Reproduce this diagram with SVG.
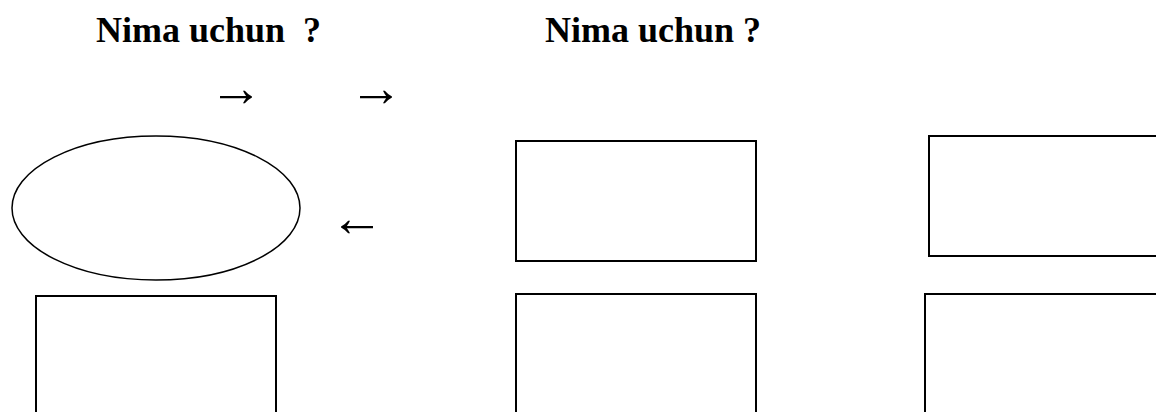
<svg xmlns="http://www.w3.org/2000/svg" width="1156" height="412" viewBox="0 0 1156 412">
<style>
.title{font-family:"Liberation Serif","Times New Roman",serif;font-weight:bold;font-size:36px;fill:#000}
.arr{font-family:"Liberation Serif","DejaVu Serif",serif;font-size:54px;fill:#000}
.box{fill:#fff;stroke:#000;stroke-width:2}
.ell{fill:#fff;stroke:#000;stroke-width:1.5}
</style>
<rect width="1156" height="412" fill="#fff"/>
<g id="title1"><text class="title" x="96" y="42" xml:space="preserve">Nima uchun  ?</text></g>
<g id="title2"><text class="title" x="545" y="42">Nima uchun ?</text></g>
<g id="connectors">
<text class="arr" x="209" y="106">→</text>
<text class="arr" x="349" y="106">→</text>
<text class="arr" x="330" y="236">←</text>
</g>
<g id="ellipse1"><ellipse class="ell" cx="156" cy="208" rx="144" ry="72"/></g>
<g id="box-left-bottom"><rect class="box" x="36" y="296" width="240" height="130"/></g>
<g id="box-mid-top"><rect class="box" x="516" y="141" width="240" height="120"/></g>
<g id="box-mid-bottom"><rect class="box" x="516" y="294" width="240" height="130"/></g>
<g id="box-right-top"><rect class="box" x="929" y="136" width="240" height="120"/></g>
<g id="box-right-bottom"><rect class="box" x="925" y="294" width="240" height="130"/></g>
</svg>
